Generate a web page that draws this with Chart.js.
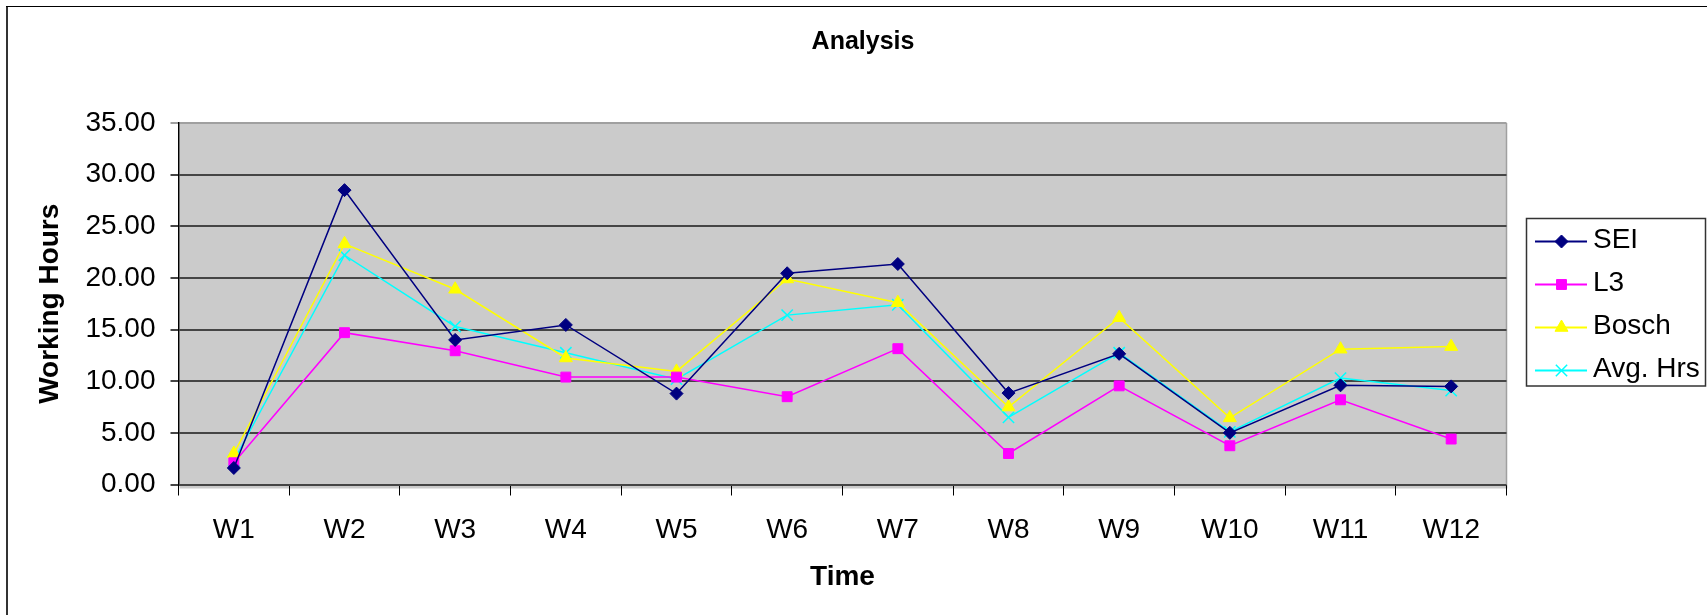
<!DOCTYPE html>
<html>
<head>
<meta charset="utf-8">
<script src="https://cdn.jsdelivr.net/npm/chart.js@4"></script>
<style>
  html, body { margin: 0; padding: 0; background: #ffffff; }
  canvas { display: block; }
</style>
</head>
<body>
<canvas id="c" width="1707" height="615"></canvas>
<script>
const categories = ['W1','W2','W3','W4','W5','W6','W7','W8','W9','W10','W11','W12'];
const seiValues   = [1.6, 28.5, 14.0, 15.45, 8.8, 20.45, 21.35, 8.85, 12.65, 5.0, 9.6, 9.5];
const l3Values    = [2.1, 14.7, 12.95, 10.4, 10.4, 8.5, 13.15, 3.0, 9.55, 3.75, 8.2, 4.4];
const boschValues = [3.0, 23.3, 18.9, 12.25, 10.95, 19.9, 17.6, 7.5, 16.15, 6.45, 13.1, 13.35];
const avgValues   = [2.3, 22.2, 15.3, 12.75, 10.2, 16.4, 17.4, 6.5, 12.75, 5.1, 10.3, 9.1];
const seriesNames = ['SEI', 'L3', 'Bosch', 'Avg. Hrs'];
const yTickMin = 0, yTickMax = 35, yTickStep = 5;
const chartTitle = 'Analysis';
const xTitle = 'Time';
const yTitle = 'Working Hours';

const FONT = "'Liberation Sans', Arial, Helvetica, sans-serif";

const frameAndBackground = {
  id: 'frameAndBackground',
  beforeDraw(chart) {
    const ctx = chart.ctx;
    const a = chart.chartArea;
    ctx.save();
    ctx.fillStyle = '#ffffff';
    ctx.fillRect(0, 0, chart.width, chart.height);
    // outer chart border
    ctx.fillStyle = '#333333';
    ctx.fillRect(6, 6, 2, chart.height);
    ctx.fillStyle = '#000000';
    ctx.fillRect(6, 6, chart.width, 1);
    // plot area
    ctx.fillStyle = '#CBCBCB';
    ctx.fillRect(a.left + 1, a.top, a.right - a.left - 1, a.bottom - a.top + 4);
    ctx.strokeStyle = '#A0A0A0';
    ctx.lineWidth = 1.5;
    ctx.beginPath();
    ctx.moveTo(a.right, a.top);
    ctx.lineTo(a.right, a.bottom + 4);
    ctx.stroke();
    ctx.restore();
  },
  afterDraw(chart) {
    const ctx = chart.ctx;
    ctx.save();
    // title
    ctx.fillStyle = '#000000';
    ctx.font = 'bold 25px ' + FONT;
    ctx.textAlign = 'center';
    ctx.textBaseline = 'middle';
    ctx.fillText(chartTitle, 863, 42);
    // legend
    const lx = 1526.5, ly = 218.5, lw = 179, lh = 167.5;
    ctx.fillStyle = '#ffffff';
    ctx.fillRect(lx, ly, lw, lh);
    ctx.strokeStyle = '#333333';
    ctx.lineWidth = 1.5;
    ctx.strokeRect(lx, ly, lw, lh);
    const rows = [241.5, 284.5, 327.5, 370.5];
    chart.data.datasets.forEach((ds, i) => {
      const y = rows[i];
      ctx.strokeStyle = ds.borderColor;
      ctx.lineWidth = 2;
      ctx.beginPath();
      ctx.moveTo(1535, y);
      ctx.lineTo(1587, y);
      ctx.stroke();
      ctx.fillStyle = ds.pointBackgroundColor;
      ctx.strokeStyle = ds.pointBorderColor;
      ctx.lineWidth = ds.pointBorderWidth;
      if (Chart.helpers && Chart.helpers.drawPoint) {
        Chart.helpers.drawPoint(ctx, {pointStyle: ds.pointStyle, radius: ds.pointRadius, rotation: 0, borderWidth: ds.pointBorderWidth}, 1561.5, y);
      }
      ctx.fillStyle = '#000000';
      ctx.font = '28px ' + FONT;
      ctx.textAlign = 'left';
      ctx.textBaseline = 'middle';
      ctx.fillText(ds.label, 1593, y - 1);
    });
    ctx.restore();
  }
};

function series(label, data, color, style, radius, bw) {
  return {
    label: label,
    data: data,
    borderColor: color,
    backgroundColor: color,
    borderWidth: 1.5,
    pointStyle: style,
    pointRadius: radius,
    pointHoverRadius: radius,
    pointBackgroundColor: color,
    pointBorderColor: color,
    pointBorderWidth: bw,
    tension: 0,
    fill: false
  };
}

new Chart(document.getElementById('c'), {
  type: 'line',
  data: {
    labels: categories,
    datasets: [
      series(seriesNames[0], seiValues, '#000080', 'rectRot', 6.5, 1),
      series(seriesNames[1], l3Values, '#FF00FF', 'rect', 7, 1),
      series(seriesNames[2], boschValues, '#FFFF00', 'triangle', 7.5, 1),
      series(seriesNames[3], avgValues, '#00FFFF', 'crossRot', 8, 1.5)
    ]
  },
  options: {
    responsive: false,
    animation: false,
    devicePixelRatio: 1,
    layout: { padding: { top: 123, right: 200.5, bottom: 0, left: 0 } },
    plugins: {
      legend: { display: false },
      title: { display: false },
      tooltip: { enabled: false }
    },
    scales: {
      x: {
        type: 'category',
        offset: true,
        afterFit(scale) { scale.height = 130.5; },
        grid: {
          offset: true,
          drawOnChartArea: false,
          drawTicks: true,
          tickLength: 11,
          color: '#000000',
          lineWidth: 1
        },
        border: { display: false },
        ticks: {
          color: '#000000',
          font: { family: FONT, size: 28 },
          padding: 18,
          maxRotation: 0,
          autoSkip: false
        },
        title: {
          display: true,
          text: xTitle,
          color: '#000000',
          font: { family: FONT, size: 28, weight: 'bold' },
          padding: { top: 0, bottom: 21 }
        }
      },
      y: {
        min: yTickMin,
        max: yTickMax,
        afterFit(scale) { scale.width = 178.5; },
        ticks: {
          stepSize: yTickStep,
          color: '#000000',
          font: { family: FONT, size: 28 },
          padding: 15,
          callback: (v) => Number(v).toFixed(2)
        },
        grid: {
          color: (ctx) => (ctx.tick && ctx.tick.value === yTickMax) ? '#A0A0A0' : '#454545',
          lineWidth: 2,
          tickLength: 8,
          drawTicks: true
        },
        border: { display: true, color: '#000000', width: 1.5 },
        title: {
          display: true,
          text: yTitle,
          color: '#000000',
          font: { family: FONT, size: 28, weight: 'bold' },
          padding: { top: 33, bottom: 0 }
        }
      }
    }
  },
  plugins: [frameAndBackground]
});
</script>
</body>
</html>
